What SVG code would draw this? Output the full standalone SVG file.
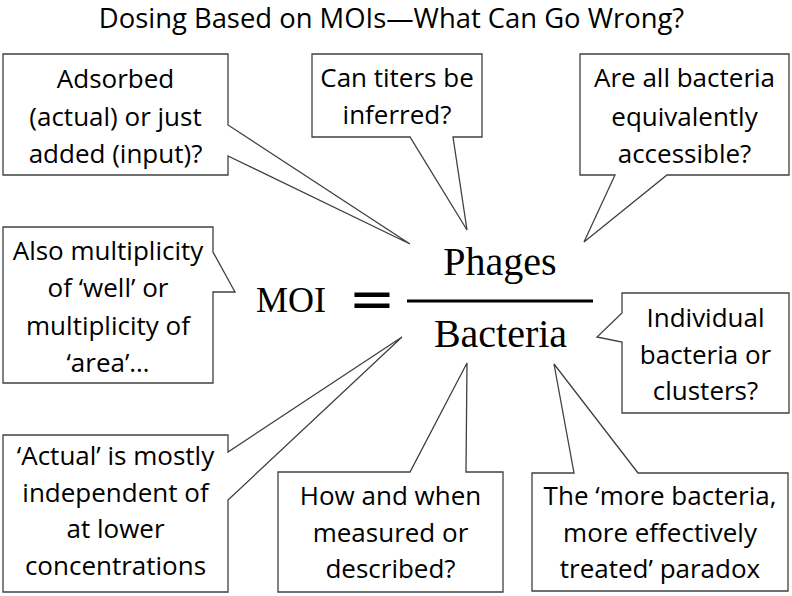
<svg xmlns="http://www.w3.org/2000/svg" width="792" height="596" viewBox="0 0 792 596">
<style>
.t{font-family:"Open Sans","Liberation Sans",sans-serif;font-size:26px;fill:#000;text-anchor:middle}
.title{font-family:"Open Sans","Liberation Sans",sans-serif;font-size:27.4px;fill:#000;text-anchor:middle}
.m{font-family:"Liberation Serif","DejaVu Serif",serif;fill:#000;text-anchor:middle}
.c{fill:#fff;stroke:#404040;stroke-width:1.3;stroke-linejoin:miter}
</style>
<rect width="792" height="596" fill="#fff"/>
<text class="title" x="391.5" y="28">Dosing Based on MOIs—What Can Go Wrong?</text>

<g id="equation">
<text class="m" x="291" y="312" font-size="36">MOI</text>
<text x="372" y="318" font-family="DejaVu Sans" font-size="56" text-anchor="middle" fill="#000">=</text>
<text class="m" x="500" y="275" font-size="40">Phages</text>
<rect x="407" y="299.5" width="186" height="3" fill="#000"/>
<text class="m" x="500.5" y="347" font-size="40">Bacteria</text>
</g>

<g id="callout-adsorbed">
<path class="c" d="M3,54 H228 V125 L410,244 L228,156 V175 H3 Z"/>
<text class="t" x="115.5" y="88">Adsorbed</text>
<text class="t" x="115.5" y="126">(actual) or just</text>
<text class="t" x="115.5" y="163">added (input)?</text>
</g>

<g id="callout-titers">
<path class="c" d="M312,54 H482 V137 H453 L467,230 L410,137 H312 Z"/>
<text class="t" x="397" y="87">Can titers be</text>
<text class="t" x="397" y="124">inferred?</text>
</g>

<g id="callout-accessible">
<path class="c" d="M580,54 H789 V175 H667 L584,242 L615,175 H580 Z"/>
<text class="t" x="684.5" y="87">Are all bacteria</text>
<text class="t" x="684.5" y="126">equivalently</text>
<text class="t" x="684.5" y="163">accessible?</text>
</g>

<g id="callout-well">
<path class="c" d="M3,227 H213 V252 L235,292 L213,292 V383 H3 Z"/>
<text class="t" x="108" y="260">Also multiplicity</text>
<text class="t" x="108" y="297">of ‘well’ or</text>
<text class="t" x="108" y="335">multiplicity of</text>
<text class="t" x="108" y="372">‘area’…</text>
</g>

<g id="callout-clusters">
<path class="c" d="M622,293 H789 V413 H622 V342 L597,337 L622,313 Z"/>
<text class="t" x="705.5" y="327">Individual</text>
<text class="t" x="705.5" y="364">bacteria or</text>
<text class="t" x="705.5" y="400">clusters?</text>
</g>

<g id="callout-actual">
<path class="c" d="M3,435 H228 V452 L402,337 L228,500 V592 H3 Z"/>
<text class="t" x="115.5" y="465">‘Actual’ is mostly</text>
<text class="t" x="115.5" y="502">independent of</text>
<text class="t" x="115.5" y="538">at lower</text>
<text class="t" x="115.5" y="575">concentrations</text>
</g>

<g id="callout-measured">
<path class="c" d="M278,472 H410 L467,363 L466,472 H503 V592 H278 Z"/>
<text class="t" x="390.5" y="505">How and when</text>
<text class="t" x="390.5" y="542">measured or</text>
<text class="t" x="390.5" y="578">described?</text>
</g>

<g id="callout-paradox">
<path class="c" d="M532,473 H574 L554,364 L638,473 H788 V591 H532 Z"/>
<text class="t" x="660" y="505">The ‘more bacteria,</text>
<text class="t" x="660" y="542">more effectively</text>
<text class="t" x="660" y="578">treated’ paradox</text>
</g>
</svg>
